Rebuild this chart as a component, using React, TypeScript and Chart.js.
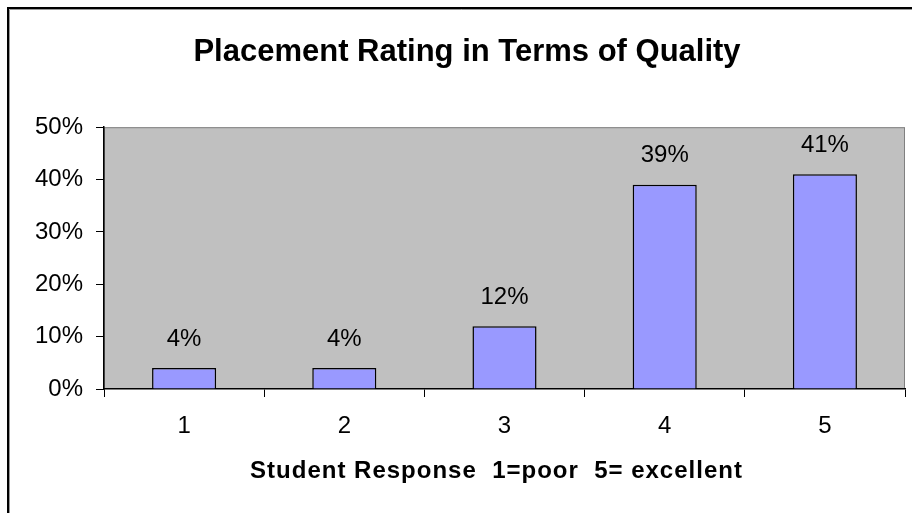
import React, { useEffect, useRef } from "react";
import { Chart, registerables } from "chart.js";

Chart.register(...registerables);

const categories = ["1", "2", "3", "4", "5"];
const values = [0.04, 0.04, 0.12, 0.39, 0.41];
const valueLabels = ["4%", "4%", "12%", "39%", "41%"];
const yTicks = [0, 0.1, 0.2, 0.3, 0.4, 0.5];
const chartTitle = "Placement Rating in Terms of Quality";
const xAxisTitle = "Student Response  1=poor  5= excellent";

const FONT = "'Liberation Sans', Arial, sans-serif";

export default function App() {
  const ref = useRef<HTMLCanvasElement | null>(null);

  useEffect(() => {
    if (!ref.current) return;
    Chart.defaults.color = "#000";

    const frame = {
      id: "frame",
      beforeDraw(chart: any) {
        const { ctx, chartArea } = chart;
        ctx.save();
        ctx.strokeStyle = "#000";
        ctx.lineWidth = 2;
        ctx.beginPath();
        ctx.moveTo(8, 520);
        ctx.lineTo(8, 8);
        ctx.lineTo(920, 8);
        ctx.stroke();
        ctx.strokeStyle = "#999";
        ctx.lineWidth = 1;
        ctx.beginPath();
        ctx.moveTo(9.5, 520);
        ctx.lineTo(9.5, 9.5);
        ctx.lineTo(920, 9.5);
        ctx.stroke();
        ctx.fillStyle = "#C0C0C0";
        ctx.fillRect(chartArea.left, chartArea.top, chartArea.right - chartArea.left, chartArea.bottom - chartArea.top);
        ctx.strokeStyle = "#808080";
        ctx.lineWidth = 1;
        ctx.strokeRect(chartArea.left + 0.5, chartArea.top + 0.5, chartArea.right - chartArea.left - 1, chartArea.bottom - chartArea.top - 1);
        ctx.restore();
      },
    };

    const labels = {
      id: "valueLabels",
      afterDatasetsDraw(chart: any) {
        const { ctx } = chart;
        const meta = chart.getDatasetMeta(0);
        ctx.save();
        ctx.font = `24px ${FONT}`;
        ctx.fillStyle = "#000";
        ctx.textAlign = "center";
        ctx.textBaseline = "middle";
        meta.data.forEach((bar: any, i: number) => {
          ctx.fillText(valueLabels[i], bar.x, bar.y - 29);
        });
        ctx.restore();
      },
    };

    const xTitle = {
      id: "xTitle",
      afterDraw(chart: any) {
        const { ctx, chartArea } = chart;
        ctx.save();
        ctx.font = `bold 24px ${FONT}`;
        try {
          (ctx as any).letterSpacing = "1px";
        } catch (e) {}
        ctx.fillStyle = "#000";
        ctx.textAlign = "center";
        ctx.textBaseline = "middle";
        const cx = (chartArea.left + chartArea.right) / 2 - 8;
        ctx.fillText(xAxisTitle, cx, chartArea.bottom + 82);
        ctx.restore();
      },
    };

    const chart = new Chart(ref.current, {
      type: "bar",
      data: {
        labels: categories,
        datasets: [
          {
            data: values,
            backgroundColor: "#9999FF",
            borderColor: "#000",
            borderWidth: 1.5,
            barPercentage: 0.4,
            categoryPercentage: 1.0,
          },
        ],
      },
      options: {
        animation: false,
        responsive: false,
        maintainAspectRatio: false,
        layout: { padding: { left: 29, right: 7, top: 0, bottom: 0 } },
        plugins: {
          legend: { display: false },
          tooltip: { enabled: false },
          title: {
            display: true,
            text: chartTitle,
            color: "#000",
            font: { family: FONT, size: 31, weight: "bold" },
            padding: { top: 34, bottom: 56 },
          },
        },
        scales: {
          x: {
            grid: {
              offset: true,
              drawOnChartArea: false,
              drawTicks: true,
              tickLength: 8,
              color: "#000",
            },
            border: { display: true, color: "#000", width: 1.5 },
            ticks: {
              color: "#000",
              font: { family: FONT, size: 24 },
              padding: 15,
            },
            afterFit(scale: any) {
              scale.height = 124;
            },
          },
          y: {
            min: 0,
            max: 0.5,
            afterBuildTicks(scale: any) {
              scale.ticks = yTicks.map((v) => ({ value: v }));
            },
            grid: {
              drawOnChartArea: false,
              drawTicks: true,
              tickLength: 8,
              color: "#000",
            },
            border: { display: true, color: "#000", width: 1.5 },
            ticks: {
              color: "#000",
              font: { family: FONT, size: 24 },
              padding: 13,
              callback: (v: any) => Math.round(Number(v) * 100) + "%",
            },
            afterFit(scale: any) {
              scale.width = 75;
            },
          },
        },
      },
      plugins: [frame, labels, xTitle],
    });

    return () => chart.destroy();
  }, []);

  return (
    <div style={{ position: "absolute", left: 0, top: 0, width: 912, height: 513, background: "#fff" }}>
      <canvas ref={ref} width={912} height={513} style={{ display: "block", width: 912, height: 513 }} />
    </div>
  );
}
